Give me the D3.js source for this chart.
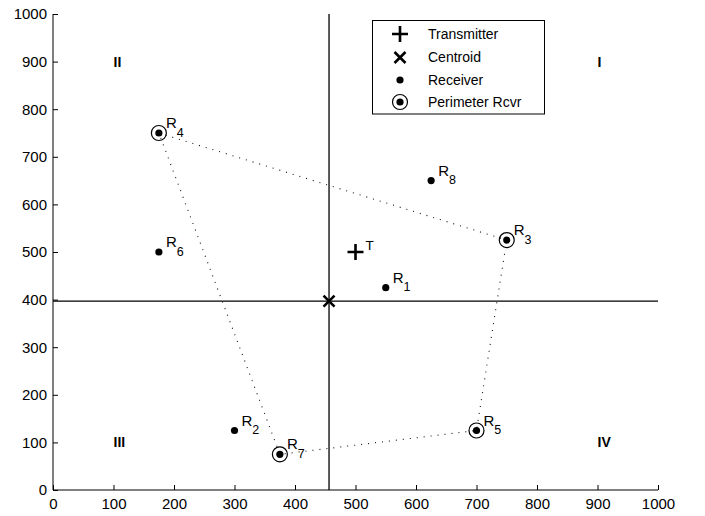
<!DOCTYPE html>
<html>
<head>
<meta charset="utf-8">
<script src="https://cdn.jsdelivr.net/npm/d3@7"></script>
<style>
  html, body { margin: 0; padding: 0; background: #fff; }
  svg { display: block; font-family: "Liberation Sans", Arial, Helvetica, sans-serif; }
</style>
</head>
<body>
<svg id="chart" width="705" height="516"></svg>
<script>
// Receiver positions (x, y) and their labels
const receiverIds = [1, 2, 3, 4, 5, 6, 7, 8];
const receiverX = [550, 300, 750, 175, 700, 175, 375, 625];
const receiverY = [425, 125, 525, 750, 125, 500, 75, 650];

// Receivers on the perimeter, in polygon order
const perimeterIds = [4, 3, 5, 7];

// Transmitter location
const transmitter = [500, 500];

// Quadrant labels and the corner they sit in
const quadrantNames = ["I", "II", "III", "IV"];
const quadrantX = [900, 100, 100, 900];
const quadrantY = [900, 900, 100, 100];

// Axis ticks
const tickValues = [0, 100, 200, 300, 400, 500, 600, 700, 800, 900, 1000];

// Legend entries
const legendLabels = ["Transmitter", "Centroid", "Receiver", "Perimeter Rcvr"];

const receivers = receiverIds.map((id, i) => ({ id, x: receiverX[i], y: receiverY[i] }));
const byId = new Map(receivers.map(d => [d.id, d]));
const perimeter = perimeterIds.map(id => byId.get(id));
const centroid = [d3.mean(receiverX), d3.mean(receiverY)];

const svg = d3.select("#chart");
const x = d3.scaleLinear().domain([0, 1000]).range([53, 658]);
const y = d3.scaleLinear().domain([0, 1000]).range([490, 14]);

// Axes (left and bottom only, ticks pointing inward)
const axisFont = 15;
const gx = svg.append("g")
  .attr("transform", `translate(0,${y(0)})`)
  .call(d3.axisBottom(x).tickValues(tickValues).tickFormat(d3.format("d")).tickSize(-5).tickPadding(8));
const gy = svg.append("g")
  .attr("transform", `translate(${x(0)},0)`)
  .call(d3.axisLeft(y).tickValues(tickValues).tickFormat(d3.format("d")).tickSize(-5).tickPadding(6));
[gx, gy].forEach(g => {
  g.attr("font-size", axisFont).attr("font-family", "Liberation Sans, Arial, sans-serif");
  g.selectAll("text").attr("fill", "#000");
  g.selectAll("line").attr("stroke", "#000");
  g.select(".domain").attr("stroke", "#000").attr("d",
    g === gx ? `M${x(0)},0H${x(1000)}` : `M0,${y(0)}V${y(1000)}`);
});

// Crosshair through the centroid
svg.append("line")
  .attr("x1", x(0)).attr("x2", x(1000))
  .attr("y1", y(centroid[1])).attr("y2", y(centroid[1]))
  .attr("stroke", "#000").attr("stroke-width", 1.3);
svg.append("line")
  .attr("x1", x(centroid[0])).attr("x2", x(centroid[0]))
  .attr("y1", y(0)).attr("y2", y(1000))
  .attr("stroke", "#000").attr("stroke-width", 1.3);

// Dotted perimeter polygon
const line = d3.line().x(d => x(d.x)).y(d => y(d.y)).curve(d3.curveLinearClosed);
svg.append("path")
  .datum(perimeter)
  .attr("d", line)
  .attr("fill", "none")
  .attr("stroke", "#111")
  .attr("stroke-width", 1.1)
  .attr("stroke-dasharray", "1 6");

// Quadrant labels
svg.append("g").selectAll("text")
  .data(quadrantNames)
  .join("text")
  .attr("x", (d, i) => x(quadrantX[i]))
  .attr("y", (d, i) => y(quadrantY[i]))
  .attr("dy", "0.35em")
  .attr("font-size", 14)
  .attr("font-weight", "bold")
  .text(d => d);

// Marker helpers
function plusPath(cx, cy, h) { return `M${cx - h},${cy}H${cx + h}M${cx},${cy - h}V${cy + h}`; }
function crossPath(cx, cy, h) { return `M${cx - h},${cy - h}L${cx + h},${cy + h}M${cx - h},${cy + h}L${cx + h},${cy - h}`; }

// Perimeter rings
svg.append("g").selectAll("circle")
  .data(perimeter)
  .join("circle")
  .attr("cx", d => x(d.x)).attr("cy", d => y(d.y))
  .attr("r", 7.5)
  .attr("fill", "none").attr("stroke", "#000").attr("stroke-width", 1.2);

// Receiver dots
svg.append("g").selectAll("circle")
  .data(receivers)
  .join("circle")
  .attr("cx", d => x(d.x)).attr("cy", d => y(d.y))
  .attr("r", 3.6)
  .attr("fill", "#000");

// Receiver labels R with subscript
const labels = svg.append("g").selectAll("text")
  .data(receivers)
  .join("text")
  .attr("x", d => x(d.x) + 7)
  .attr("y", d => y(d.y) - 5)
  .attr("font-size", 15);
labels.append("tspan").text("R");
labels.append("tspan").attr("font-size", 12.5).attr("dy", 8.5).text(d => d.id);

// Transmitter
svg.append("path")
  .attr("d", plusPath(x(transmitter[0]), y(transmitter[1]), 8))
  .attr("stroke", "#000").attr("stroke-width", 2.6).attr("fill", "none");
svg.append("text")
  .attr("x", x(transmitter[0]) + 10)
  .attr("y", y(transmitter[1]) - 2)
  .attr("font-size", 13.5)
  .text("T");

// Centroid
svg.append("path")
  .attr("d", crossPath(x(centroid[0]), y(centroid[1]), 5.5))
  .attr("stroke", "#000").attr("stroke-width", 2.6).attr("fill", "none");

// Legend
const legend = svg.append("g");
legend.append("rect")
  .attr("x", 372.5).attr("y", 20.5).attr("width", 172).attr("height", 93.5)
  .attr("fill", "#fff").attr("stroke", "#000").attr("stroke-width", 1);
const rowY = [34, 57.5, 80, 102];
const symX = 400;
legend.append("path").attr("d", plusPath(symX, rowY[0], 8))
  .attr("stroke", "#000").attr("stroke-width", 2.6).attr("fill", "none");
legend.append("path").attr("d", crossPath(symX, rowY[1], 5.5))
  .attr("stroke", "#000").attr("stroke-width", 2.6).attr("fill", "none");
legend.append("circle").attr("cx", symX).attr("cy", rowY[2]).attr("r", 3.6).attr("fill", "#000");
legend.append("circle").attr("cx", symX).attr("cy", rowY[3]).attr("r", 7.5)
  .attr("fill", "none").attr("stroke", "#000").attr("stroke-width", 1.2);
legend.append("circle").attr("cx", symX).attr("cy", rowY[3]).attr("r", 3.6).attr("fill", "#000");
legend.selectAll("text.entry")
  .data(legendLabels)
  .join("text")
  .attr("class", "entry")
  .attr("x", 428)
  .attr("y", (d, i) => rowY[i])
  .attr("dy", "0.35em")
  .attr("font-size", 14)
  .text(d => d);
</script>
</body>
</html>
